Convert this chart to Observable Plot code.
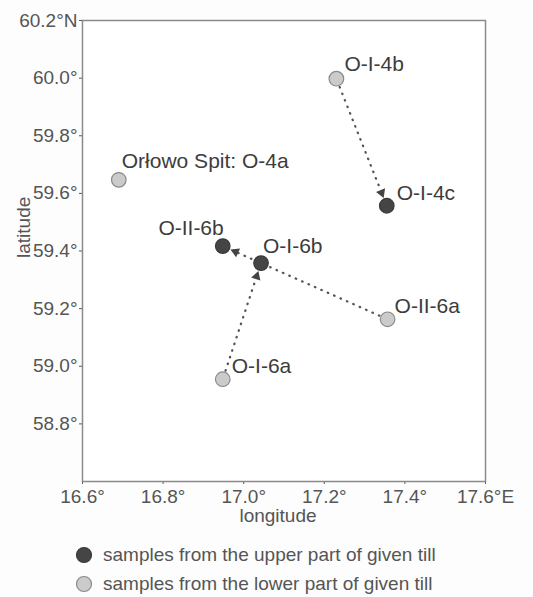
<!DOCTYPE html>
<html>
<head>
<meta charset="utf-8">
<script src="https://cdn.jsdelivr.net/npm/d3@7"></script>
<script src="https://cdn.jsdelivr.net/npm/@observablehq/plot@0.6"></script>
<style>
  html, body { margin: 0; padding: 0; background: #fdfdfd; }
  #chart { width: 533px; }
  .legend { font-family: "Liberation Sans", Arial, sans-serif; font-size: 19px; color: #555; margin-top: 0; }
  .row { display: flex; align-items: center; height: 29px; padding-left: 75px; }
  .row svg { margin-right: 10px; }
</style>
</head>
<body>
<div id="chart"></div>
<script>
// ---- data ----
const sites = ["O-I-4b", "O-I-4c", "Orłowo Spit: O-4a", "O-II-6b", "O-I-6b", "O-II-6a", "O-I-6a"];
const lon   = [17.23, 17.355, 16.69, 16.948, 17.043, 17.357, 16.948];
const lat   = [59.998, 59.557, 59.647, 59.417, 59.358, 59.163, 58.955];
const part  = ["lower", "upper", "lower", "upper", "upper", "lower", "lower"];
const moveFrom = ["O-I-4b", "O-II-6a", "O-I-6a"];
const moveTo   = ["O-I-4c", "O-II-6b", "O-I-6b"];
const xTicks = [16.6, 16.8, 17.0, 17.2, 17.4, 17.6];
const xTickLabels = ["16.6°", "16.8°", "17.0°", "17.2°", "17.4°", "17.6°E"];
const yTicks = [58.8, 59.0, 59.2, 59.4, 59.6, 59.8, 60.0, 60.2];
const yTickLabels = ["58.8°", "59.0°", "59.2°", "59.4°", "59.6°", "59.8°", "60.0°", "60.2°N"];
const legendLabels = {upper: "samples from the upper part of given till", lower: "samples from the lower part of given till"};

// ---- layout ----
const W = 533, H = 530, mL = 82, mR = 48, mT = 20, mB = 49;
const xDomain = [16.6, 17.6], yDomain = [58.6, 60.2];
const fillOf = {upper: "#454545", lower: "#cbcbcb"};
const strokeOf = {upper: "#3a3a3a", lower: "#8a8a8a"};

const pts = sites.map((s, i) => ({site: s, lon: lon[i], lat: lat[i], part: part[i]}));
const byName = Object.fromEntries(pts.map(d => [d.site, d]));

// pixel mirror of Plot's linear scales to place the dotted shafts and heads
const sx = d3.scaleLinear(xDomain, [mL, W - mR]);
const sy = d3.scaleLinear(yDomain, [H - mB, mT]);
const shafts = [], heads = [];
moveFrom.forEach((f, i) => {
  const a = byName[f], b = byName[moveTo[i]];
  const ax = sx(a.lon), ay = sy(a.lat), bx = sx(b.lon), by = sy(b.lat);
  const L = Math.hypot(bx - ax, by - ay), ux = (bx - ax) / L, uy = (by - ay) / L;
  const p0 = [ax + ux * 9, ay + uy * 9], p1 = [bx - ux * 17, by - uy * 17], ph = [bx - ux * 14, by - uy * 14];
  shafts.push({x1: sx.invert(p0[0]), y1: sy.invert(p0[1]), x2: sx.invert(p1[0]), y2: sy.invert(p1[1])});
  heads.push({x: sx.invert(ph[0]), y: sy.invert(ph[1]), angle: Math.atan2(ux, -uy) * 180 / Math.PI});
});

const labelStyle = {
  "O-I-4b": {dx: 8, dy: -14, anchor: "start"},
  "O-I-4c": {dx: 10, dy: -12, anchor: "start"},
  "Orłowo Spit: O-4a": {dx: 3, dy: -19, anchor: "start"},
  "O-II-6b": {dx: 1, dy: -18, anchor: "end"},
  "O-I-6b": {dx: 2, dy: -17, anchor: "start"},
  "O-II-6a": {dx: 7, dy: -13, anchor: "start"},
  "O-I-6a": {dx: 9, dy: -13, anchor: "start"}
};

const labelMarks = pts.map(d => {
  const st = labelStyle[d.site];
  return Plot.text([d], {x: "lon", y: "lat", text: "site", dx: st.dx, dy: st.dy, textAnchor: st.anchor,
    fill: "#3c3c3c", fontSize: 21});
});

const chart = Plot.plot({
  width: W, height: H,
  marginLeft: mL, marginRight: mR, marginTop: mT, marginBottom: mB,
  style: {fontFamily: "'Liberation Sans', Arial, sans-serif", fontSize: "19px", color: "#555", background: "#fdfdfd"},
  x: {domain: xDomain, ticks: xTicks, tickFormat: d => xTickLabels[xTicks.findIndex(t => Math.abs(t - d) < 1e-9)], tickSize: 3, tickPadding: 5, label: null},
  y: {domain: yDomain, ticks: yTicks, tickFormat: d => yTickLabels[yTicks.findIndex(t => Math.abs(t - d) < 1e-9)], tickSize: 3, tickPadding: 2, label: null},
  marks: [
    Plot.frame({stroke: "#8a8a8a", strokeWidth: 1.5, fill: "white"}),
    Plot.link(shafts, {x1: "x1", y1: "y1", x2: "x2", y2: "y2", stroke: "#555", strokeWidth: 2.3,
      strokeDasharray: "0.5,6.5", strokeLinecap: "round"}),
    Plot.dot(heads, {x: "x", y: "y", symbol: "triangle", r: 3.6, fill: "#444", stroke: "none", rotate: "angle"}),
    Plot.dot(pts, {x: "lon", y: "lat", r: 7.3, fill: d => fillOf[d.part], stroke: d => strokeOf[d.part], strokeWidth: 1.2}),
    ...labelMarks,
    Plot.text(["longitude"], {frameAnchor: "bottom", dx: -6, dy: 40, fill: "#555", fontSize: 19}),
    Plot.text(["latitude"], {frameAnchor: "left", dx: -59, dy: 7, rotate: -90, fill: "#555", fontSize: 19})
  ]
});
document.getElementById("chart").append(chart);

// ---- legend ----
const legend = document.createElement("div");
legend.className = "legend";
legend.style.paddingTop = "10px";
["upper", "lower"].forEach(k => {
  const row = document.createElement("div");
  row.className = "row";
  row.innerHTML = `<svg width="18" height="18"><circle cx="9" cy="9" r="7.5" fill="${fillOf[k]}" stroke="${strokeOf[k]}" stroke-width="1.2"/></svg><span>${legendLabels[k]}</span>`;
  legend.append(row);
});
document.getElementById("chart").append(legend);
</script>
</body>
</html>
